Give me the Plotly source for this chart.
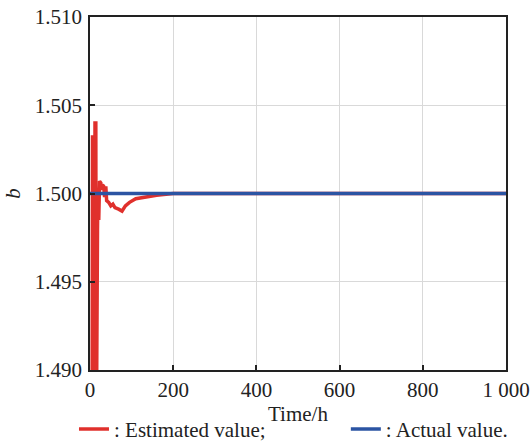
import plotly.graph_objects as go

# Estimated value of b over time (red)
est_t = [5, 6, 9, 10, 11, 12, 14, 15, 16, 18, 19, 21, 23, 26, 28, 30, 33, 35, 38, 40,
         45, 50, 55, 60, 70, 77, 85, 95, 110, 130, 160, 200, 400, 600, 800, 1000]
est_b = [1.485, 1.5032, 1.5032, 1.485, 1.485, 1.5040, 1.5040, 1.485, 1.4979, 1.4979,
         1.5001, 1.4985, 1.5007, 1.5006, 1.5002, 1.5005, 1.5004, 1.4998, 1.5004, 1.4996,
         1.4995, 1.4993, 1.4994, 1.4992, 1.4991, 1.4990, 1.4993, 1.4995, 1.4997, 1.4998,
         1.4999, 1.5000, 1.5000, 1.5000, 1.5000, 1.5000]

# Actual value of b (blue)
act_t = [0, 1000]
act_b = [1.5, 1.5]

x_ticks = [0, 200, 400, 600, 800, 1000]
x_tick_text = ["0", "200", "400", "600", "800", "1 000"]
y_ticks = [1.490, 1.495, 1.500, 1.505, 1.510]

FONT = "Liberation Serif, Times New Roman, serif"
FS = 21

fig = go.Figure()
fig.add_trace(go.Scatter(x=est_t, y=est_b, mode="lines", name=": Estimated value;",
                         line=dict(color="#e0302c", width=3.5), legend="legend"))
fig.add_trace(go.Scatter(x=act_t, y=act_b, mode="lines", name=": Actual value.",
                         line=dict(color="#2b54a3", width=3.5), legend="legend2"))

axis_common = dict(showline=True, linecolor="#222", linewidth=1.5, mirror=True,
                   ticks="inside", ticklen=5, tickcolor="#222", tickwidth=1.5,
                   showgrid=True, gridcolor="#d9d9d9", gridwidth=1, zeroline=False,
                   tickfont=dict(family=FONT, size=FS, color="#222"))

legend_common = dict(orientation="h", xanchor="left", y=-0.11, yanchor="top",
                     font=dict(family=FONT, size=FS, color="#222"),
                     bgcolor="rgba(0,0,0,0)")

fig.update_layout(
    width=530, height=447,
    margin=dict(l=90, r=24, t=17, b=77, autoexpand=False),
    paper_bgcolor="white", plot_bgcolor="white",
    font=dict(family=FONT, size=FS, color="#222"),
    showlegend=True,
    legend=dict(x=-0.0385, **legend_common),
    legend2=dict(x=0.615, **legend_common),
    xaxis=dict(range=[0, 1000], tickvals=x_ticks, ticktext=x_tick_text,
               title=dict(text="Time/h", font=dict(family=FONT, size=FS), standoff=3),
               **axis_common),
    yaxis=dict(range=[1.490, 1.510], tickvals=y_ticks, tickformat=".3f",
               ticklabelstandoff=2,
               title=dict(text="<i>b</i>", font=dict(family=FONT, size=FS), standoff=8),
               **axis_common),
)

fig.write_html("out.html")
